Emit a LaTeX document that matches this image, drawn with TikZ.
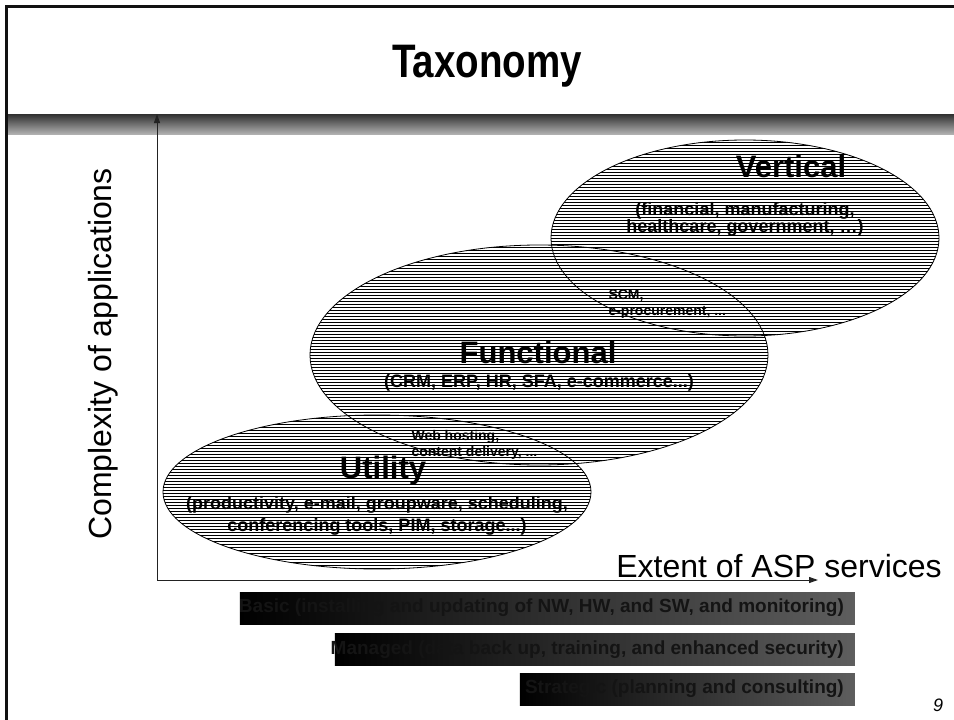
\documentclass[tikz,border=0pt]{standalone}
\usepackage{fontspec}
\setmainfont{Liberation Sans}
\newfontfamily\narrowfont{Liberation Sans}[FakeStretch=0.82]
\usetikzlibrary{patterns,arrows.meta,shapes.geometric}

% fine hatching: one thin line every 3pt, overlapping tiles to avoid seams
\pgfdeclarepatternformonly{fine hatch}{\pgfqpoint{-2pt}{0pt}}{\pgfqpoint{102pt}{3pt}}{\pgfqpoint{100pt}{3pt}}{%
  \pgfsetlinewidth{0.4pt}%
  \pgfpathmoveto{\pgfqpoint{-2pt}{1.5pt}}%
  \pgfpathlineto{\pgfqpoint{102pt}{1.5pt}}%
  \pgfusepath{stroke}}

\definecolor{framegray}{HTML}{111111}
\definecolor{bandtop}{HTML}{303030}
\definecolor{bandmid}{HTML}{8E8E8E}
\definecolor{bandbot}{HTML}{B0B0B0}
\definecolor{barend}{HTML}{5E5E5E}
\definecolor{bartext}{HTML}{141414}
\definecolor{axisgray}{HTML}{222222}

\tikzset{
  zone/.style={ellipse, draw=black, line width=0.8pt, pattern=fine hatch,
               pattern color=black, inner sep=0pt},
  zonetitle/.style={font=\bfseries\fontsize{31}{33}\selectfont},
  zonelist/.style={font=\bfseries\fontsize{18}{21}\selectfont, align=center},
  overlap/.style={font=\bfseries\fontsize{14}{16}\selectfont, align=left, anchor=west},
  axislabel/.style={font=\fontsize{32}{34}\selectfont},
  axisline/.style={draw=axisgray, line width=1pt, -{Triangle[length=9pt,width=6pt]}},
  servicebar/.style={left color=black, right color=barend, minimum height=32pt,
                     inner sep=0pt, anchor=east},
  servicetext/.style={anchor=east, text=bartext, inner sep=0pt,
                      font=\bfseries\fontsize{19}{21}\selectfont},
}

\begin{document}
\begin{tikzpicture}[x=1pt,y=-1pt]
  \useasboundingbox (0,0) rectangle (954,720);
  \fill[white] (0,0) rectangle (954,720);

  % slide frame: top and left edges
  \draw[framegray, line width=2.5pt] (954,6.5) -- (6.5,6.5) -- (6.5,720);

  % title and the shaded band beneath it
  \node[anchor=base, font=\narrowfont\bfseries\fontsize{47}{50}\selectfont] (title) at (487,77) {Taxonomy};
  \shade[top color=bandtop, middle color=bandmid, bottom color=bandbot]
    (8,114) rectangle (954,134);

  % service zones
  \node[zone, minimum width=388pt, minimum height=196pt] (vertical) at (745,238) {};
  \node[zone, minimum width=458pt, minimum height=220pt] (functional) at (539,355) {};
  \node[zone, minimum width=428pt, minimum height=154pt] (utility) at (377,492) {};

  % axes
  \coordinate (origin) at (157,580);
  \coordinate (ytip) at (157,114);
  \coordinate (xtip) at (818,580);
  \draw[axisline] (origin) -- (ytip);
  \draw[axisline] (origin) -- (xtip);

  % zone labels
  \node[zonetitle] (vtitle) at (791,166) {Vertical};
  \node[zonelist, font=\bfseries\fontsize{18}{17}\selectfont] (vlist) at (745,219)
    {(financial, manufacturing,\\healthcare, government, \dots)};
  \node[overlap] (scm) at (605,304) {SCM,\\e-procurement, ...};
  \node[zonetitle] (ftitle) at (538,352) {Functional};
  \node[zonelist] (flist) at (539,383) {(CRM, ERP, HR, SFA, e-commerce...)};
  \node[overlap] (web) at (408,445) {Web hosting,\\content delivery, ...};
  \node[zonetitle] (utitle) at (383,470) {Utility};
  \node[zonelist, font=\bfseries\fontsize{18}{22}\selectfont] (ulist) at (377,516)
    {(productivity, e-mail, groupware, scheduling,\\conferencing tools, PIM, storage...)};

  % axis labels
  \node[axislabel, rotate=90] (ylabel) at (103,354) {Complexity of applications};
  \node[axislabel] (xlabel) at (779,566) {Extent of ASP services};

  % service levels: shaded bars with right-aligned captions
  \node[servicebar, minimum width=615pt] (basic) at (855,608) {};
  \node[servicetext] (basictext) at ([xshift=-11pt]basic.east)
    {Basic (installing and updating of NW, HW, and SW, and monitoring)};
  \node[servicebar, minimum width=520pt] (managed) at (855,649.5) {};
  \node[servicetext] (managedtext) at ([xshift=-11pt]managed.east)
    {Managed (data back up, training, and enhanced security)};
  \node[servicebar, minimum width=335pt] (strategic) at (855,689) {};
  \node[servicetext] (strategictext) at ([xshift=-11pt]strategic.east)
    {Strategic (planning and consulting)};

  % page number
  \node[font=\itshape\fontsize{18}{20}\selectfont] (pagenum) at (938,705) {9};
\end{tikzpicture}
\end{document}
